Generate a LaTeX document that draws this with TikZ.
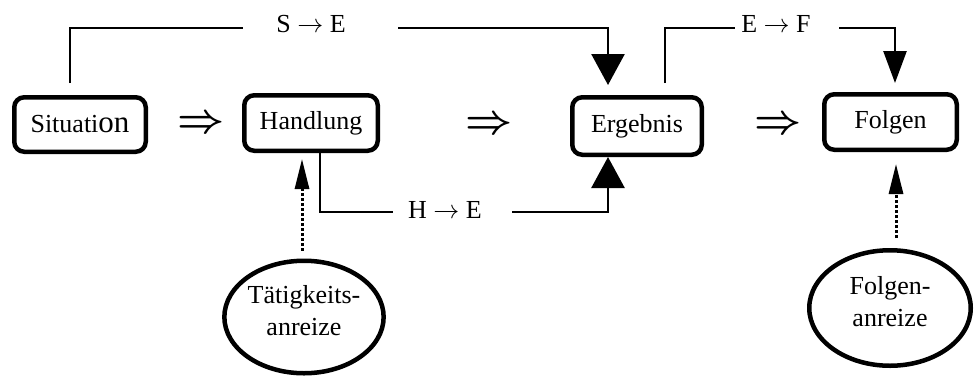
\documentclass[tikz,border=0pt]{standalone}
\usepackage{fix-cm}
\usepackage{fontspec}
\setmainfont{Liberation Serif}
\usetikzlibrary{arrows.meta,shapes.geometric}
\begin{document}
\begin{tikzpicture}[x=1pt,y=-1pt,
  box/.style={draw, line width=4.5pt, rounded corners=10pt, inner sep=0pt,
    font=\fontsize{26}{30}\selectfont},
  oval/.style={draw, ellipse, line width=4.5pt, inner sep=0pt, align=center,
    text depth=14pt, font=\fontsize{26}{32}\selectfont},
  link/.style={line width=2.6pt},
  bighead/.style={-{Triangle[length=31pt,width=33pt]}},
  narrowhead/.style={-{Triangle[length=32pt,width=23pt]}},
  smallhead/.style={-{Triangle[length=30pt,width=14pt]}},
  dots/.style={line width=3pt, dash pattern=on 3pt off 2pt},
  lbl/.style={anchor=base, inner sep=0pt, font=\fontsize{26}{30}\selectfont},
  implies/.style={inner sep=0pt, font=\fontsize{41}{41}\selectfont\boldmath}
]
\useasboundingbox (0,0) rectangle (975,376);

% main chain
\node[box, minimum width=131.5pt, minimum height=54.5pt] (sit)  at (80,124.5)
  {Situati{\fontsize{31}{30}\selectfont on}};
\node[box, minimum width=133.5pt, minimum height=55.5pt] (hand) at (311,123) {Handlung};
\node[box, minimum width=129.5pt, minimum height=57.5pt] (erg)  at (637,126) {Ergebnis};
\node[box, minimum width=132.5pt, minimum height=55.5pt] (folg) at (890.5,122) {Folgen};

\node[implies] (i1) at (201,124) {$\Rightarrow$};
\node[implies] (i2) at (489,125) {$\Rightarrow$};
\node[implies] (i3) at (778,125) {$\Rightarrow$};

% incentives
\node[oval, minimum width=153.5pt, minimum height=112.5pt] (tat) at (304,317)
  {T\"atigkeits-\\anreize};
\node[oval, minimum width=161.5pt, minimum height=115.5pt] (fa) at (890,308)
  {Folgen-\\anreize};

% expectation links with their labels
\node[lbl] (se) at (311,32)  {S $\rightarrow$ E};
\node[lbl] (he) at (445,218) {H $\rightarrow$ E};
\node[lbl] (ef) at (776,32)  {E $\rightarrow$ F};

\coordinate (se1) at (243,28);
\coordinate (se2) at (398,28);
\coordinate (he1) at (393,212);
\coordinate (he2) at (512,212);
\coordinate (ef1) at (735,28);
\coordinate (ef2) at (839,28);

\draw[link] ([xshift=-10pt,yshift=12pt]sit.north) |- (se1);
\draw[link, bighead, shorten >=10pt] (se2) -| ([xshift=-29pt]erg.north);

\draw[link] ([xshift=9pt]hand.south) |- (he1);
\draw[link, bighead] (he2) -| ([xshift=-29pt]erg.south);

\draw[link] ([xshift=28pt,yshift=12pt]erg.north) |- (ef1);
\draw[link, narrowhead, shorten >=9pt] (ef2) -| ([xshift=4.5pt]folg.north);

% incentive arrows
\draw[dots, smallhead, shorten <=8pt, shorten >=6pt]
  ([xshift=-2pt]tat.north) -- ([xshift=-2pt]tat.north |- hand.south);
\draw[dots, smallhead, shorten <=10pt, shorten >=12pt]
  ([xshift=6pt]fa.north) -- ([xshift=6pt]fa.north |- folg.south);
\end{tikzpicture}
\end{document}
